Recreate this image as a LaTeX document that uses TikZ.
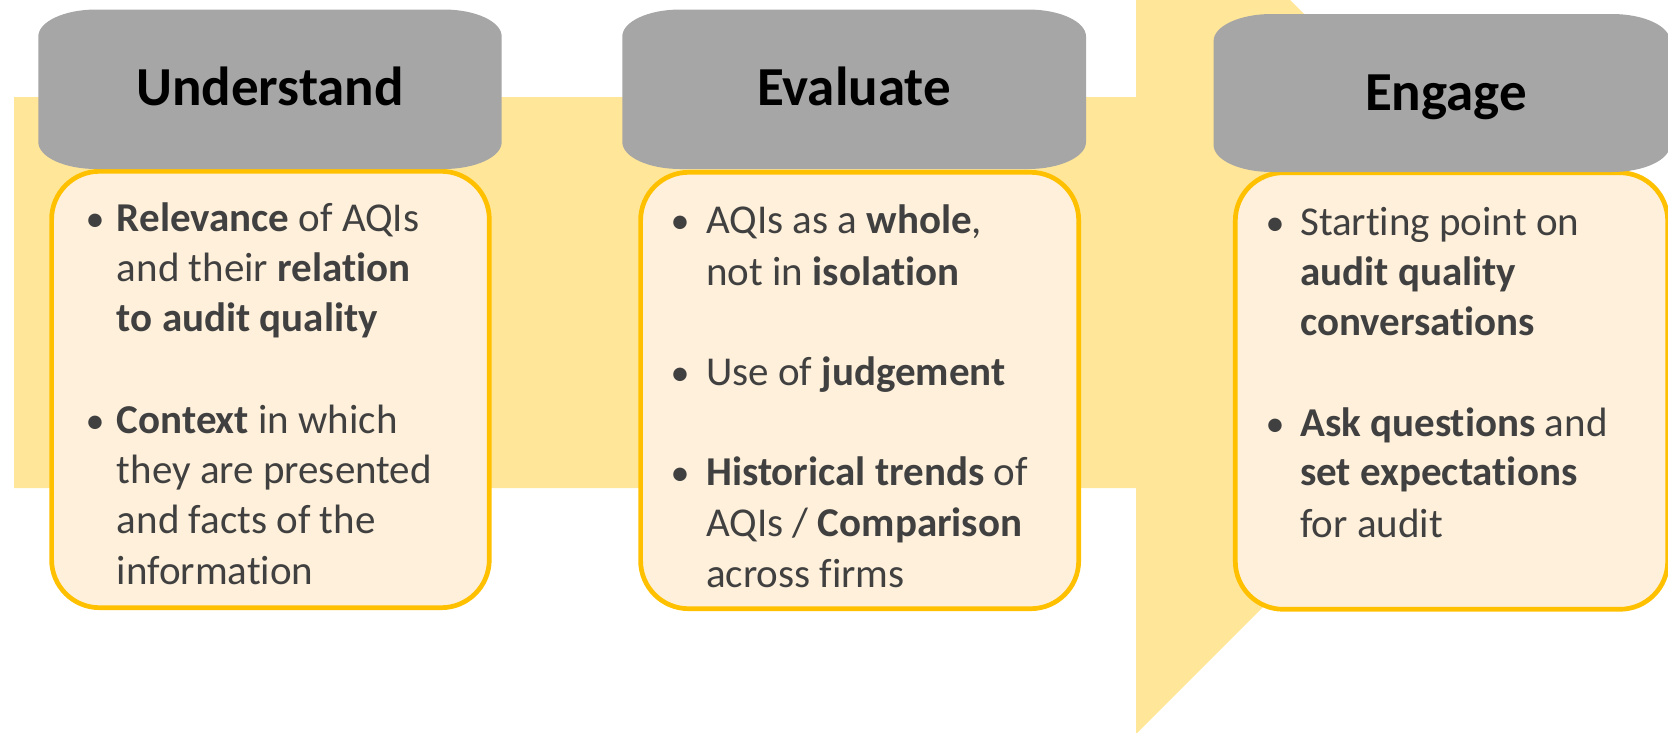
\documentclass[tikz,border=0pt]{standalone}
\usepackage{fontspec}
\setmainfont[Ligatures=NoCommon]{Carlito}
\definecolor{bandyellow}{HTML}{FFE699}
\definecolor{headgray}{HTML}{A6A6A6}
\definecolor{creamfill}{HTML}{FEF0DA}
\definecolor{goldline}{HTML}{FFC000}
\definecolor{bodytext}{HTML}{404040}
\newcommand{\grayshape}[4]{% x1 y1 x2 y2 (y downwards)
  \fill[headgray] (#1,#2+27) arc[start angle=180,end angle=270,x radius=58,y radius=27]
    -- (#3-58,#2) arc[start angle=270,end angle=360,x radius=58,y radius=27]
    -- (#3,#4-27) arc[start angle=0,end angle=90,x radius=58,y radius=27]
    -- (#1+58,#4) arc[start angle=90,end angle=180,x radius=58,y radius=27] -- cycle;}
\tikzset{
  cream/.style={draw=goldline, line width=4.7pt, fill=creamfill, rounded corners=48pt},
  title/.style={anchor=base, inner sep=0pt, text=black, font=\fontsize{55}{60}\selectfont\bfseries},
  line/.style={anchor=base west, inner sep=0pt, text=bodytext, font=\fontsize{41}{50}\selectfont},
  dot/.style={anchor=base, inner sep=0pt, text=bodytext, font=\fontsize{38}{50}\selectfont}
}
\begin{document}
\begin{tikzpicture}[x=1pt,y=-1pt]
\useasboundingbox (0,0) rectangle (1668,732);
\clip (0,0) rectangle (1668,732);
% big arrow
\fill[bandyellow] (14,97) -- (1136,97) -- (1136,-154) -- (1580,290) -- (1136,734) -- (1136,488) -- (14,488) -- cycle;
% cream boxes
\draw[cream] (51.6,171.3) rectangle (489.3,607.7);
\draw[cream] (640.6,172.3) rectangle (1078.7,608.7);
\draw[cream] (1235.3,172.7) rectangle (1667.7,609.3);
% gray heads
\grayshape{38.3}{9.5}{501.7}{169}
\grayshape{622.3}{9.5}{1086}{169}
\grayshape{1213.6}{14}{1670}{172}
% titles
\node[title] (t1) at (270,105) {Understand};
\node[title] (t2) at (854,105) {Evaluate};
\node[title] (t3) at (1446,110.5) {Engage};
% Understand
\node[dot] (u1b) at (95,231) {•};
\node[line] (u1) at (116.7,231) {\textbf{Relevance} of AQIs};
\node[line] (u2) at (116.7,281) {and their \textbf{relation}};
\node[line] (u3) at (116.7,331) {\textbf{to audit quality}};
\node[dot] (u4b) at (95,433) {•};
\node[line] (u4) at (116.7,433) {\textbf{Context} in which};
\node[line] (u5) at (116.7,483) {they are presented};
\node[line] (u6) at (116.7,533) {and facts of the};
\node[line] (u7) at (116.7,584) {information};
% Evaluate
\node[dot] (e1b) at (680,233.5) {•};
\node[line] (e1) at (706,233.5) {AQIs as a \textbf{whole},};
\node[line] (e2) at (706,285) {not in \textbf{isolation}};
\node[dot] (e3b) at (680,385) {•};
\node[line] (e3) at (706,385) {Use of \textbf{judgement}};
\node[dot] (e4b) at (680,485) {•};
\node[line] (e4) at (706,485) {\textbf{Historical trends} of};
\node[line] (e5) at (706,536.5) {AQIs / \textbf{Comparison}};
\node[line] (e6) at (706,587) {across firms};
% Engage
\node[dot] (g1b) at (1275,235.8) {•};
\node[line] (g1) at (1300,235.8) {Starting point on};
\node[line] (g2) at (1300,285) {\textbf{audit quality}};
\node[line] (g3) at (1300,335) {\textbf{conversations}};
\node[dot] (g4b) at (1275,436.5) {•};
\node[line] (g4) at (1300,436.5) {\textbf{Ask questions} and};
\node[line] (g5) at (1300,485.5) {\textbf{set expectations}};
\node[line] (g6) at (1300,537) {for audit};
\end{tikzpicture}
\end{document}
